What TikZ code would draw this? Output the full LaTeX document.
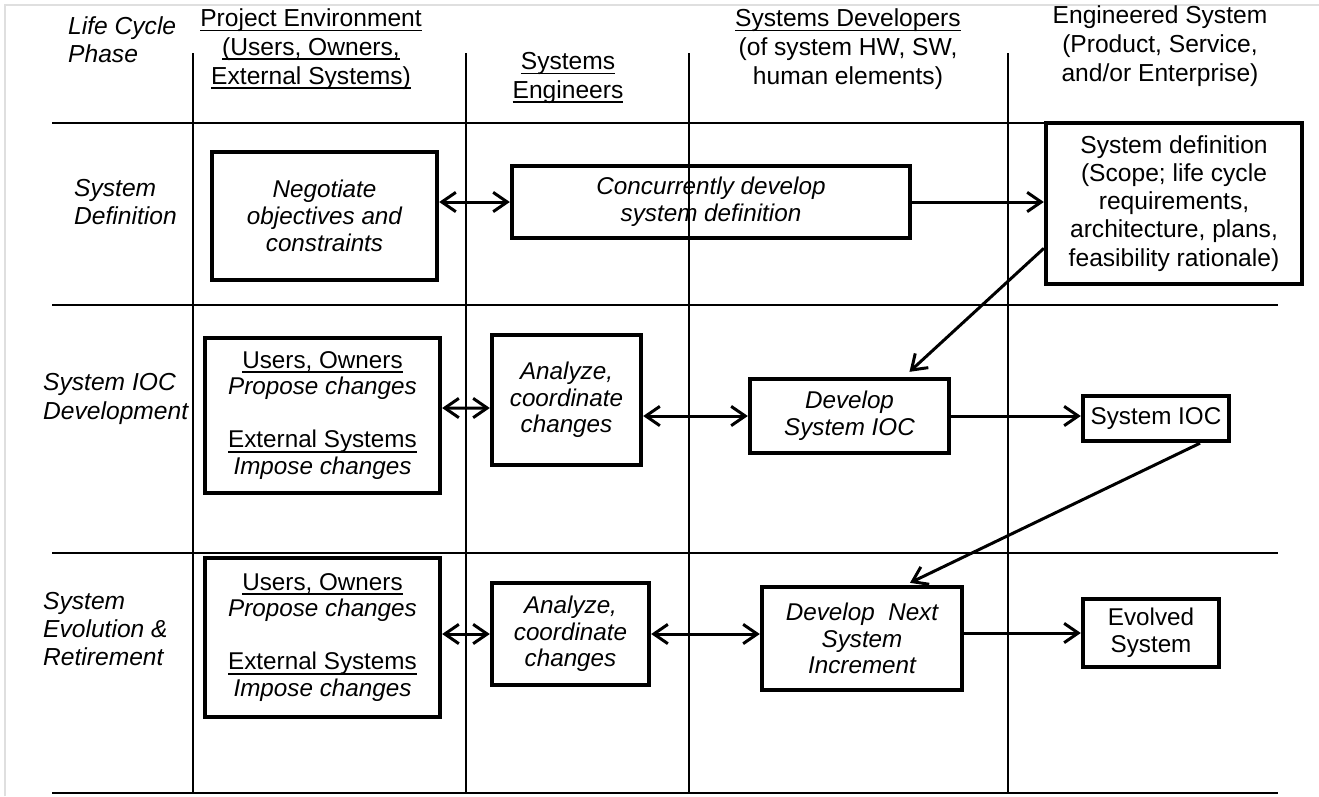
\documentclass[tikz,border=0pt]{standalone}
\usepackage{fontspec}
\setmainfont{Liberation Sans}
\usetikzlibrary{arrows.meta,positioning,calc}

\newcommand{\ulbar}[1]{\leavevmode\setbox0=\hbox{#1}\rlap{\rule[-2.6pt]{\wd0}{0.9pt}}\box0}

\begin{document}
\begin{tikzpicture}[x=0.02cm, y=-0.02cm,
    >={Straight Barb[length=8pt,width=11pt]},
    grid/.style={line width=1.6pt},
    link/.style={line width=1.7pt},
    pbox/.style={rectangle, draw, line width=2.5pt, align=center, inner sep=0pt, font=\fontsize{13.8}{15.2}\selectfont},
    ibox/.style={pbox, font=\fontsize{13.8}{15.2}\selectfont\itshape},
    lane/.style={align=center, font=\fontsize{14}{16.4}\selectfont},
    phase/.style={align=left, anchor=west, font=\fontsize{14}{16}\selectfont\itshape}]

    \useasboundingbox (0,0) rectangle (1319,796);
    \draw[gray!25, line width=0.8pt] (5,796) -- (5,5) -- (1319,5);

    % swimlane grid
    \foreach \yy in {123,305,553,793}
        \draw[grid] (52,\yy) -- (1278,\yy);
    \foreach \xx in {193,466,689,1008}
        \draw[grid] (\xx,53) -- (\xx,793);

    % headers
    \node[phase] (hphase) at (62,40) {Life Cycle\\Phase};
    \node[lane] (henv) at (311,49) {\ulbar{Project Environment}\\\ulbar{(Users, Owners,}\\\ulbar{External Systems)}};
    \node[lane] (heng) at (568,78) {\ulbar{Systems}\\\ulbar{Engineers}};
    \node[lane] (hdev) at (848,49) {\ulbar{Systems Developers}\\(of system HW, SW,\\human elements)};
    \node[lane] (hsys) at (1160,46) {Engineered System\\(Product, Service,\\and/or Enterprise)};

    % phases
    \node[phase] (pdef) at (68,202) {System\\Definition};
    \node[phase] (pioc) at (37,399) {System IOC\\Development};
    \node[phase] (pevo) at (37,629) {System\\Evolution \&\\Retirement};

    % system definition row
    \node[ibox, minimum width=4.5cm, minimum height=2.56cm] (neg) at (324.5,216) {Negotiate\\objectives and\\constraints};
    \node[ibox, minimum width=7.96cm, minimum height=1.44cm] (conc) at (711,202) {Concurrently develop\\system definition};
    \node[pbox, minimum width=5.12cm, minimum height=3.22cm, font=\fontsize{14}{16}\selectfont] (sdef) at (1174,203.5) {System definition\\(Scope; life cycle\\requirements,\\architecture, plans,\\feasibility rationale)};

    % IOC row
    \node[pbox, minimum width=4.7cm, minimum height=3.1cm] (usrA) at (322.5,415.5) {\ulbar{Users, Owners}\\\textit{Propose changes}\\[15pt]\ulbar{External Systems}\\\textit{Impose changes}};
    \node[ibox, minimum width=2.98cm, minimum height=2.6cm] (anaA) at (566.5,400) {Analyze,\\coordinate\\changes};
    \node[ibox, minimum width=3.98cm, minimum height=1.48cm] (devA) at (849.5,416) {Develop\\System IOC};
    \node[pbox, minimum width=2.92cm, minimum height=0.9cm] (ioc) at (1156,418.5) {System IOC};

    % evolution row
    \node[pbox, minimum width=4.7cm, minimum height=3.18cm] (usrB) at (322.5,637.5) {\ulbar{Users, Owners}\\\textit{Propose changes}\\[15pt]\ulbar{External Systems}\\\textit{Impose changes}};
    \node[ibox, minimum width=3.14cm, minimum height=2.04cm] (anaB) at (570.5,634) {Analyze,\\coordinate\\changes};
    \node[ibox, minimum width=4cm, minimum height=2.06cm] (devB) at (862,638.5) {Develop~ Next\\System\\Increment};
    \node[pbox, minimum width=2.72cm, minimum height=1.36cm] (evo) at (1151,633) {Evolved\\System};

    \draw[link, <->] (neg.east |- conc.west) -- (conc.west);
    \draw[link, ->] (conc.east) -- (sdef.west |- conc.east);
    \draw[link, ->] (sdef.199) -- ([xshift=1.2cm,yshift=0.1cm]devA.north);
    \draw[link, <->] ([yshift=0.15cm]usrA.east) -- ([yshift=-0.16cm]anaA.west);
    \draw[link, <->] (anaA.east |- devA.west) -- (devA.west);
    \draw[link, ->] (devA.east) -- (devA.east -| ioc.west);
    \draw[link, ->] ([xshift=0.88cm]ioc.south) -- ([xshift=0.96cm,yshift=0.04cm]devB.north);
    \draw[link, <->] (usrB.east |- anaB.west) -- (anaB.west);
    \draw[link, <->] (anaB.east) -- (anaB.east -| devB.west);
    \draw[link, ->] (devB.east |- evo.west) -- (evo.west);
\end{tikzpicture}
\end{document}
